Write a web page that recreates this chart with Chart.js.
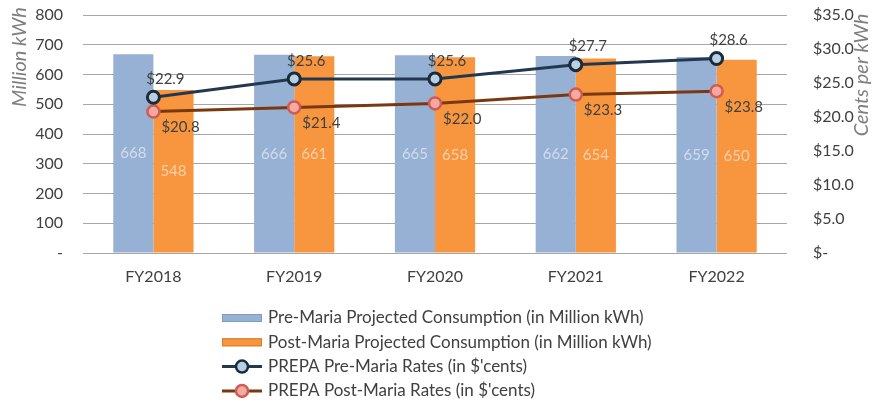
<!DOCTYPE html>
<html>
<head>
<meta charset="utf-8">
<script src="https://cdn.jsdelivr.net/npm/chart.js@4.4.0/dist/chart.umd.min.js"></script>
<style>
html, body { margin: 0; padding: 0; background: #fff; }
</style>
</head>
<body>
<canvas id="myChart" width="873" height="403"></canvas>
<script>
var ctx = document.getElementById('myChart').getContext('2d');

// ************************ dados ************************
var anos = ['FY2018', 'FY2019', 'FY2020', 'FY2021', 'FY2022'];
var consumoPre = [668, 666, 665, 662, 659];
var consumoPos = [548, 661, 658, 654, 650];
var tarifaPre = [22.9, 25.6, 25.6, 27.7, 28.6];
var tarifaPos = [20.8, 21.4, 22.0, 23.3, 23.8];

var nomes = [
    'Pre-Maria Projected Consumption (in Million kWh)',
    'Post-Maria Projected Consumption (in Million kWh)',
    "PREPA Pre-Maria Rates (in $'cents)",
    "PREPA Post-Maria Rates (in $'cents)"
];

var fonte = 'Lato, "Liberation Sans", sans-serif';

// ************************ plugins ************************
// rotulos nas barras e nos pontos
const rotulos = {
    id: 'rotulos',
    afterDatasetsDraw(chart) {
        const c = chart.ctx;
        c.save();
        c.font = '15px ' + fonte;
        c.textBaseline = 'middle';
        chart.data.datasets.forEach((ds, i) => {
            const meta = chart.getDatasetMeta(i);
            meta.data.forEach((el, j) => {
                const v = ds.data[j];
                if (ds.type === 'line') {
                    const txt = '$' + v.toFixed(1);
                    c.fillStyle = '#404040';
                    if (i === 2) {
                        c.textAlign = 'center';
                        c.fillText(txt, el.x + 12, el.y - 18);
                    } else {
                        c.textAlign = 'left';
                        c.fillText(txt, el.x + 8, el.y + 16);
                    }
                } else {
                    c.fillStyle = 'rgba(255,255,255,0.55)';
                    c.textAlign = 'center';
                    c.fillText(v, el.x, (el.y + el.base) / 2);
                }
            });
        });
        c.restore();
    }
};

// titulos dos eixos + legenda vertical
const extras = {
    id: 'extras',
    afterDraw(chart) {
        const c = chart.ctx;
        c.save();
        c.font = 'italic 20px ' + fonte;
        c.fillStyle = '#7f7f7f';
        c.textAlign = 'center';
        c.textBaseline = 'middle';
        c.translate(20, 57);
        c.rotate(-Math.PI / 2);
        c.fillText('Million kWh', 0, 0);
        c.restore();

        c.save();
        c.font = 'italic 20px ' + fonte;
        c.fillStyle = '#7f7f7f';
        c.textAlign = 'center';
        c.textBaseline = 'middle';
        c.translate(862, 75);
        c.rotate(-Math.PI / 2);
        c.fillText('Cents per kWh', 0, 0);
        c.restore();

        // legenda
        c.save();
        c.font = '17px ' + fonte;
        c.textBaseline = 'middle';
        c.textAlign = 'left';
        chart.data.datasets.forEach((ds, i) => {
            const y = 318 + i * 24.3;
            const x = 222;
            if (ds.type === 'line') {
                c.strokeStyle = ds.borderColor;
                c.lineWidth = 3;
                c.beginPath();
                c.moveTo(x, y);
                c.lineTo(x + 40, y);
                c.stroke();
                c.beginPath();
                c.arc(x + 20, y, 6, 0, Math.PI * 2);
                c.fillStyle = ds.pointBackgroundColor;
                c.fill();
                c.lineWidth = 2.5;
                c.strokeStyle = ds.pointBorderColor;
                c.stroke();
            } else {
                c.fillStyle = ds.backgroundColor;
                c.fillRect(x, y - 4, 40, 8);
                c.strokeStyle = ds.borderColor;
                c.lineWidth = 1;
                c.strokeRect(x + 0.5, y - 3.5, 39, 7);
            }
            c.fillStyle = '#404040';
            c.fillText(ds.label, x + 46, y);
        });
        c.restore();
    }
};

// ************************ grafico ************************
const data = {
    labels: anos,
    datasets: [{
        type: 'bar',
        label: nomes[0],
        data: consumoPre,
        backgroundColor: '#97B1D5',
        borderColor: '#7f9cc4',
        borderWidth: 0,
        yAxisID: 'y',
        order: 2
    }, {
        type: 'bar',
        label: nomes[1],
        data: consumoPos,
        backgroundColor: '#F7963F',
        borderColor: '#d97a2a',
        borderWidth: 0,
        yAxisID: 'y',
        order: 2
    }, {
        type: 'line',
        label: nomes[2],
        data: tarifaPre,
        borderColor: '#22384f',
        borderWidth: 3,
        pointRadius: 6,
        pointBorderWidth: 3,
        pointBackgroundColor: '#b9cfe2',
        pointBorderColor: '#1a2b3c',
        yAxisID: 'y1',
        order: 0
    }, {
        type: 'line',
        label: nomes[3],
        data: tarifaPos,
        borderColor: '#7a3810',
        borderWidth: 3,
        pointRadius: 6,
        pointBorderWidth: 2.5,
        pointBackgroundColor: '#f4aaa2',
        pointBorderColor: '#cf5b52',
        yAxisID: 'y1',
        order: 1
    }]
};

const opcoes = {
    responsive: false,
    animation: false,
    layout: {
        padding: { top: 15, bottom: 110, left: 0, right: 0 }
    },
    plugins: {
        legend: { display: false },
        tooltip: { enabled: false }
    },
    datasets: {
        bar: { categoryPercentage: 0.57, barPercentage: 1.0 }
    },
    scales: {
        x: {
            grid: { display: false, drawTicks: false },
            border: { display: false },
            ticks: { color: '#404040', font: { family: fonte, size: 16 }, padding: 14 },
            afterFit: s => { s.height = 40; }
        },
        y: {
            position: 'left',
            min: 0,
            max: 800,
            ticks: {
                stepSize: 100,
                color: '#404040',
                font: { family: fonte, size: 16 },
                padding: 20,
                callback: v => v === 0 ? '-' : v
            },
            grid: { color: '#a6a6a6', drawTicks: false, lineWidth: 1 },
            border: { display: false },
            afterFit: s => { s.width = 83; s.paddingTop = 0; s.paddingBottom = 0; }
        },
        y1: {
            position: 'right',
            min: 0,
            max: 35,
            ticks: {
                stepSize: 5,
                color: '#404040',
                font: { family: fonte, size: 16 },
                padding: 18,
                callback: v => v === 0 ? '$-' : '$' + v.toFixed(1)
            },
            grid: { display: false },
            border: { display: false },
            afterFit: s => { s.width = 86; s.paddingTop = 0; s.paddingBottom = 0; }
        }
    }
};

var myChart = new Chart(ctx, {
    type: 'bar',
    data: data,
    options: opcoes,
    plugins: [rotulos, extras]
});
</script>
</body>
</html>
